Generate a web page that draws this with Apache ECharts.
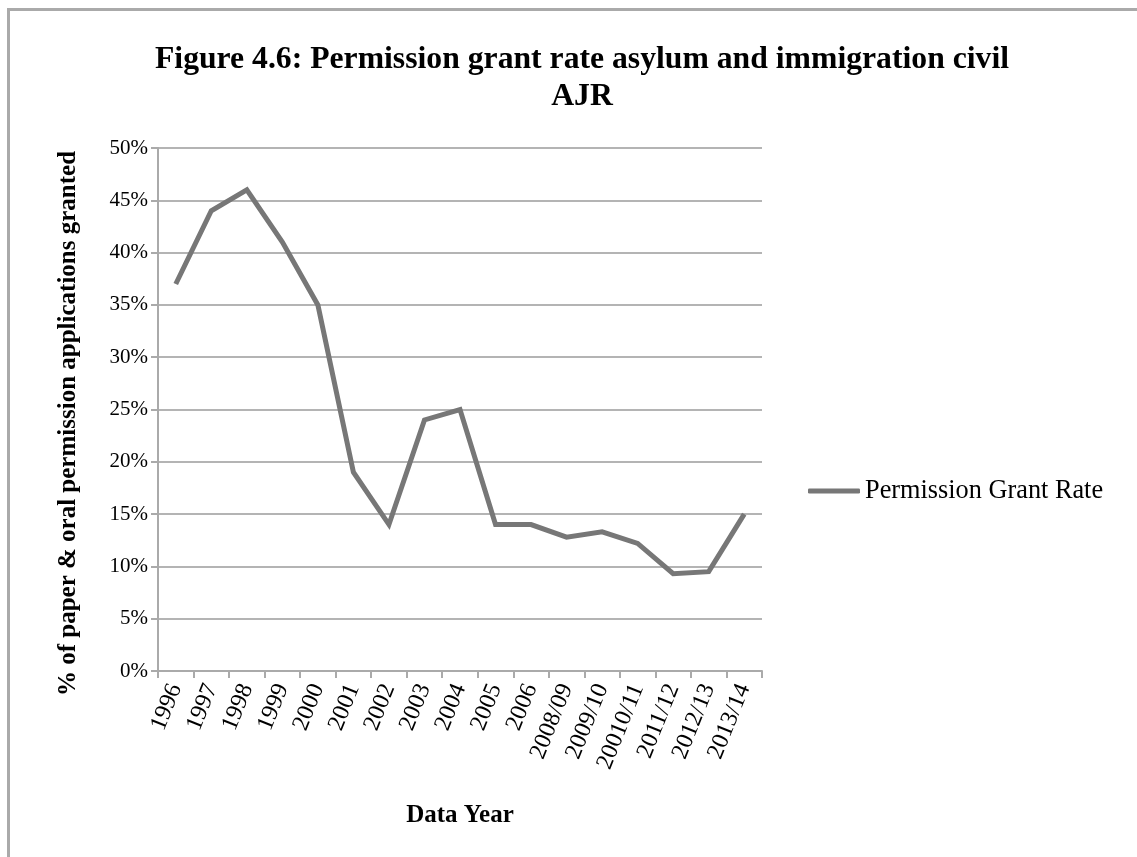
<!DOCTYPE html>
<html>
<head>
<meta charset="utf-8">
<script src="https://cdn.jsdelivr.net/npm/echarts@6/dist/echarts.min.js"></script>
<style>
  html, body { margin: 0; padding: 0; background: #ffffff; }
  #chart { width: 1137px; height: 857px; }
</style>
</head>
<body>
<div id="chart"></div>
<script>
// Data years (category axis)
const years = ['1996', '1997', '1998', '1999', '2000', '2001', '2002', '2003', '2004',
  '2005', '2006', '2008/09', '2009/10', '20010/11', '2011/12', '2012/13', '2013/14'];

// Permission grant rate, percent of paper & oral applications granted
const grantRate = [37, 44, 46, 41, 35, 19, 14, 24, 25, 14, 14, 12.8, 13.3, 12.2, 9.3, 9.5, 15];

// Y axis range (percent)
const yMin = 0;
const yMax = 50;
const yStep = 5;

const serif = 'Liberation Serif';
const chart = echarts.init(document.getElementById('chart'), null, { renderer: 'canvas' });

chart.setOption({
  backgroundColor: '#ffffff',
  animation: false,
  title: {
    text: 'Figure 4.6: Permission grant rate asylum and immigration civil\nAJR',
    left: 577,
    top: 36,
    textAlign: 'center',
    textStyle: {
      fontFamily: serif,
      fontWeight: 'bold',
      fontSize: 31.7,
      lineHeight: 37,
      color: '#000000'
    }
  },
  legend: {
    left: 808,
    top: 478,
    padding: 0,
    itemWidth: 52,
    itemHeight: 5,
    itemGap: 5,
    icon: 'roundRect',
    data: [{ name: 'Permission Grant Rate', itemStyle: { color: '#777777' } }],
    textStyle: { fontFamily: serif, fontSize: 26.3, color: '#000000' }
  },
  grid: { left: 158, right: 375, top: 148, bottom: 186, containLabel: false },
  xAxis: {
    type: 'category',
    data: years,
    boundaryGap: true,
    name: 'Data Year',
    nameLocation: 'middle',
    nameGap: 132,
    nameTextStyle: { fontFamily: serif, fontWeight: 'bold', fontSize: 25, color: '#000000' },
    axisLine: { lineStyle: { color: '#aaaaaa', width: 2 } },
    axisTick: { show: true, length: 7, lineStyle: { color: '#aaaaaa', width: 2 } },
    axisLabel: {
      interval: 0,
      rotate: 68,
      margin: 14,
      fontFamily: serif,
      fontSize: 24,
      color: '#000000'
    },
    splitLine: { show: false }
  },
  yAxis: {
    type: 'value',
    min: yMin,
    max: yMax,
    interval: yStep,
    name: '% of paper & oral permission applications granted',
    nameLocation: 'middle',
    nameGap: 77,
    nameTextStyle: {
      fontFamily: serif, fontWeight: 'bold', fontSize: 25, color: '#000000',
      padding: [0, 28, 0, 0]
    },
    axisLine: { show: true, lineStyle: { color: '#aaaaaa', width: 2 } },
    axisTick: { show: true, inside: false, length: 7, lineStyle: { color: '#aaaaaa', width: 2 } },
    axisLabel: {
      formatter: '{value}%',
      margin: 10,
      fontFamily: serif,
      fontSize: 21,
      color: '#000000'
    },
    splitLine: { show: true, lineStyle: { color: '#b4b4b4', width: 2 } }
  },
  series: [{
    name: 'Permission Grant Rate',
    type: 'line',
    data: grantRate,
    symbol: 'none',
    lineStyle: { color: '#777777', width: 5, join: 'miter' },
    itemStyle: { color: '#777777' }
  }],
  graphic: [
    { type: 'line', shape: { x1: 8, y1: 9.5, x2: 1137, y2: 9.5 }, style: { stroke: '#aaaaaa', lineWidth: 3 } },
    { type: 'line', shape: { x1: 8.5, y1: 8, x2: 8.5, y2: 857 }, style: { stroke: '#aaaaaa', lineWidth: 3 } }
  ]
});
</script>
</body>
</html>
